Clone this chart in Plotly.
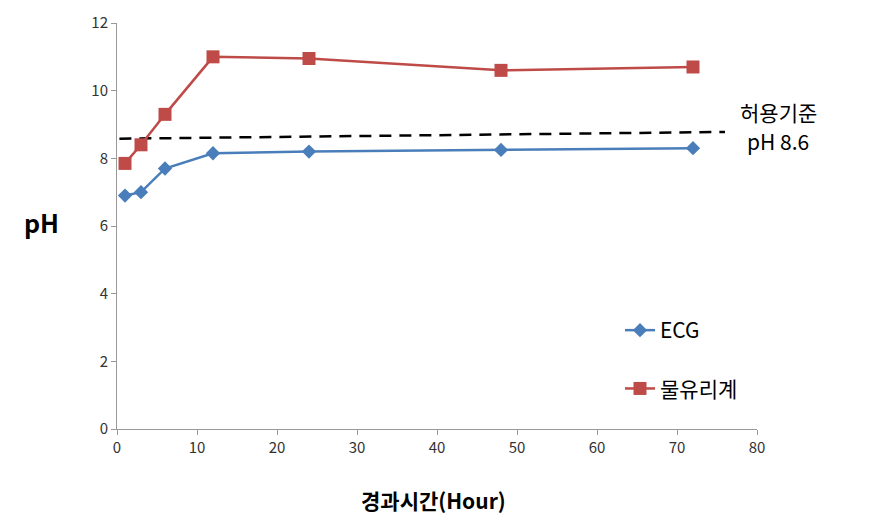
import plotly.graph_objects as go

hours = [1, 3, 6, 12, 24, 48, 72]
ecg = [6.9, 7.0, 7.7, 8.15, 8.2, 8.25, 8.3]
water_glass = [7.85, 8.4, 9.3, 11.0, 10.95, 10.6, 10.7]
limit_x = [0.3, 76]
limit_y = [8.58, 8.78]
x_ticks = [0, 10, 20, 30, 40, 50, 60, 70, 80]
y_ticks = [0, 2, 4, 6, 8, 10, 12]

font_family = "Noto Sans CJK KR, Noto Sans, sans-serif"

L, R, T, B = 109, 749, 15, 421
W, H = 880, 518
PW, PH = R - L, B - T

fig = go.Figure()
fig.add_trace(go.Scatter(
    x=limit_x, y=limit_y, mode="lines", showlegend=False,
    line=dict(color="black", width=2.5, dash="12px,8px"), hoverinfo="skip"))
fig.add_trace(go.Scatter(
    x=hours, y=ecg, mode="lines+markers", name="ECG", legendgroup="a",
    line=dict(color="#4a7ebb", width=2.5),
    marker=dict(symbol="diamond", size=11, color="#4a7ebb")))
fig.add_trace(go.Scatter(
    x=hours, y=water_glass, mode="lines+markers", name="물유리계", legendgroup="b",
    line=dict(color="#be4b48", width=2.5),
    marker=dict(symbol="square", size=13, color="#be4b48")))

def px(xp):
    return (xp - L) / PW

def py(yp):
    return (B - yp) / PH

fig.add_annotation(x=px(770), y=py(104), xref="paper", yref="paper",
                   text="허용기준", showarrow=False,
                   font=dict(size=21, color="black", family=font_family),
                   xanchor="center", yanchor="middle")
fig.add_annotation(x=px(770), y=py(133), xref="paper", yref="paper",
                   text="pH 8.6", showarrow=False,
                   font=dict(size=21, color="black", family=font_family),
                   xanchor="center", yanchor="middle")
fig.add_annotation(x=px(33), y=py(214), xref="paper", yref="paper",
                   text="<b>pH</b>", showarrow=False,
                   font=dict(size=25, color="black", family=font_family),
                   xanchor="center", yanchor="middle")
fig.add_annotation(x=px(425), y=py(492), xref="paper", yref="paper",
                   text="<b>경과시간(Hour)</b>", showarrow=False,
                   font=dict(size=21, color="black", family=font_family),
                   xanchor="center", yanchor="middle")

fig.update_layout(
    width=W, height=H,
    margin=dict(l=L, r=W - R, t=T, b=H - B, autoexpand=False),
    paper_bgcolor="white", plot_bgcolor="white",
    font=dict(family=font_family, color="#333"),
    legend=dict(x=px(612), y=py(302), xanchor="left", yanchor="top",
                font=dict(size=21, color="black"), tracegroupgap=28,
                bgcolor="rgba(0,0,0,0)", itemwidth=30),
    xaxis=dict(range=[0, 80], tickvals=x_ticks, showgrid=False, zeroline=False,
               showline=True, linecolor="#999", linewidth=1, automargin=False,
               ticks="outside", ticklen=5, tickcolor="#999",
               tickfont=dict(size=15, color="#333")),
    yaxis=dict(range=[0, 12], tickvals=y_ticks, showgrid=False, zeroline=False,
               showline=True, linecolor="#999", linewidth=1, automargin=False,
               ticks="outside", ticklen=5, tickcolor="#999",
               tickfont=dict(size=15, color="#333")),
)

fig.write_html("out.html")
